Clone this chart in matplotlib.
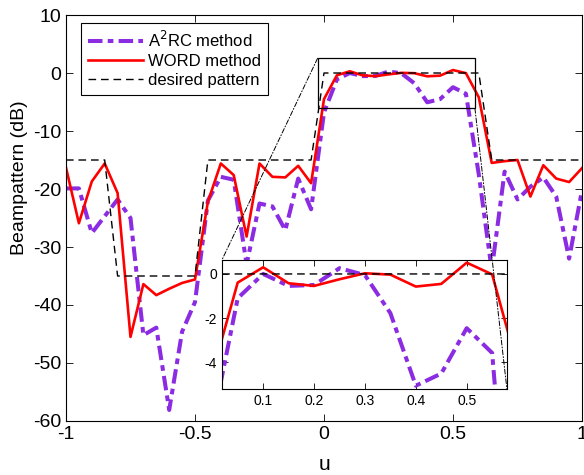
import matplotlib
matplotlib.use("Agg")
import matplotlib.pyplot as plt
from matplotlib.patches import Rectangle, ConnectionPatch

plt.rcParams['font.family'] = ['Liberation Sans', 'DejaVu Sans']

# sampling grid of the look direction u = sin(theta)
u = [-1.00, -0.95, -0.90, -0.85, -0.80, -0.75, -0.70, -0.65, -0.60, -0.55,
     -0.50, -0.45, -0.40, -0.35, -0.30, -0.25, -0.20, -0.15, -0.10, -0.05,
     0.00, 0.05, 0.10, 0.15, 0.20, 0.25, 0.30, 0.35, 0.40, 0.45,
     0.50, 0.55, 0.60, 0.65, 0.70, 0.75, 0.80, 0.85, 0.90, 0.95, 1.00]

# A^2RC beampattern (dB)
a2rc = [-19.9, -19.9, -27.6, -24.7, -21.8, -25.0, -45.2, -43.9, -58.1, -44.6,
        -39.5, -22.0, -17.9, -18.4, -33.0, -22.5, -23.0, -27.1, -18.2, -23.5,
        -6.8, -1.1, 0.0, -0.54, -0.5, 0.26, -0.05, -1.77, -5.05, -4.5,
        -2.45, -3.57, -17.5, -34.0, -17.0, -21.8, -19.6, -18.0, -21.3, -32.0, -20.2]

# WORD beampattern (dB)
word = [-16.3, -25.9, -18.7, -15.6, -20.7, -45.5, -36.4, -38.3, -37.2, -36.2,
        -35.6, -22.2, -15.6, -17.6, -28.2, -15.6, -17.9, -18.0, -16.0, -19.0,
        -4.5, -0.39, 0.30, -0.42, -0.54, -0.24, 0.03, -0.03, -0.57, -0.45,
        0.51, -0.02, -4.2, -15.5, -15.2, -15.0, -21.3, -15.9, -18.2, -18.8, -16.4]

# desired (mask) pattern corners
desired_u = [-1.0, -0.85, -0.8, -0.5, -0.45, -0.05, 0.0, 0.6, 0.65, 1.0]
desired_db = [-15, -15, -35, -35, -15, -15, 0, 0, -15, -15]

purple = '#8B2BE2'
red = '#FF0000'
a2rc_style = (0, (3.6, 1.3, 1.4, 1.3))
desired_style = (0, (5.5, 3.5))

fig = plt.figure(figsize=(5.84, 4.75), dpi=100)
ax = fig.add_axes([0.113, 0.1137, 0.8836, 0.8547])

ax.plot(u, a2rc, color=purple, lw=2.9, linestyle=a2rc_style, label=r'A$^2$RC method')
ax.plot(u, word, color=red, lw=1.9, label='WORD method')
ax.plot(desired_u, desired_db, color='black', lw=1.0, linestyle=desired_style,
        label='desired pattern')

ax.set_xlim(-1, 1)
ax.set_ylim(-60, 10)
ax.set_xticks([-1, -0.5, 0, 0.5, 1])
ax.set_xticklabels(['-1', '-0.5', '0', '0.5', '1'])
ax.set_yticks(range(-60, 11, 10))
ax.set_yticklabels([str(v) for v in range(-60, 11, 10)])
ax.tick_params(direction='in', top=True, right=True, labelsize=14, length=5, width=0.6)
for s in ax.spines.values():
    s.set_linewidth(0.8)
ax.set_xlabel('u', fontsize=15, labelpad=9)
ax.set_ylabel('Beampattern (dB)', fontsize=14)
ax.yaxis.set_label_coords(-0.074, 0.6)

leg = ax.legend(loc='upper left', bbox_to_anchor=(0.029, 0.98), borderaxespad=0,
                fontsize=12, handlelength=3.3, handletextpad=0.35, labelspacing=0.25,
                borderpad=0.4, fancybox=False, framealpha=1, edgecolor='black')
leg.get_frame().set_linewidth(0.8)

# zoom box
rect_x0, rect_x1 = -0.025, 0.585
rect_y0, rect_y1 = -6.1, 2.53
ax.add_patch(Rectangle((rect_x0, rect_y0), rect_x1 - rect_x0, rect_y1 - rect_y0,
                       fill=False, edgecolor='black', lw=0.9, zorder=5))

# inset
ins = fig.add_axes([0.380, 0.181, 0.488, 0.2716])
ins.plot(u, a2rc, color=purple, lw=2.9, linestyle=a2rc_style)
ins.plot(u, word, color=red, lw=1.9)
ins.plot(desired_u, desired_db, color='black', lw=1.0, linestyle=desired_style)
ins.set_xlim(0.019, 0.579)
ins.set_ylim(-5.2, 0.63)
ins.set_xticks([0.1, 0.2, 0.3, 0.4, 0.5])
ins.set_yticks([-4, -2, 0])
ins.set_yticklabels(['-4', '-2', '0'])
ins.tick_params(direction='in', top=True, right=True, labelsize=10, length=4, width=0.6)
for s in ins.spines.values():
    s.set_linewidth(0.8)

for (xa, ya), (xb, yb) in [((rect_x0, rect_y1), (0, 1)), ((rect_x1, rect_y0), (1, 0))]:
    con = ConnectionPatch(xyA=(xa, ya), coordsA=ax.transData,
                          xyB=(xb, yb), coordsB=ins.transAxes,
                          color='black', lw=0.7, linestyle=(0, (5, 2, 1, 2)), zorder=10)
    fig.add_artist(con)

fig.savefig('out.png', dpi=100)
